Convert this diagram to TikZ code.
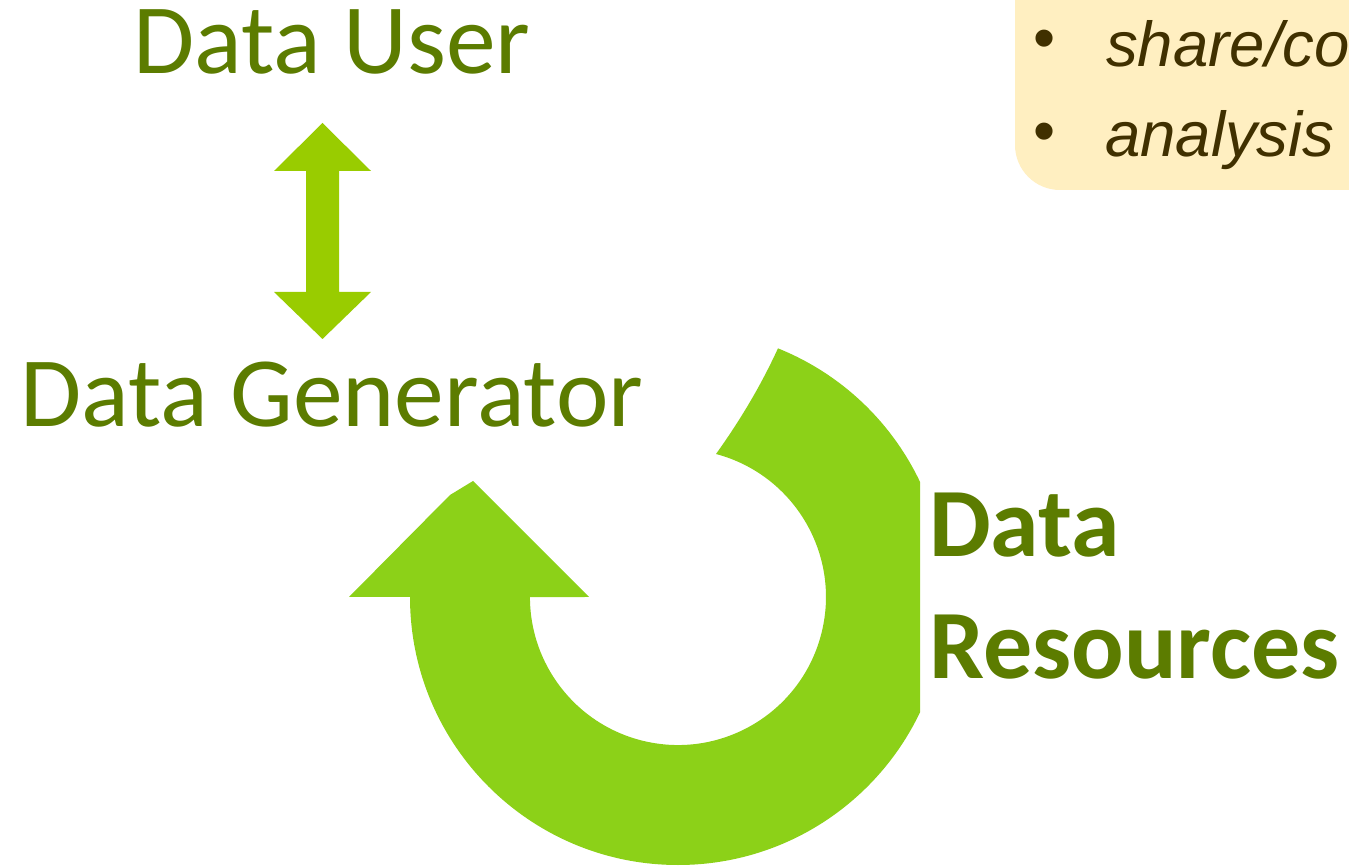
\documentclass[tikz,border=0pt]{standalone}
\usepackage{fontspec}
\newfontfamily\carlito{Carlito}
\newfontfamily\arialfont{Liberation Sans}
\definecolor{textgreen}{RGB}{92,124,0}
\definecolor{dblgreen}{RGB}{153,204,0}
\definecolor{circgreen}{RGB}{140,209,24}
\definecolor{boxfill}{RGB}{255,239,193}
\definecolor{boxtext}{RGB}{64,48,0}
\tikzset{
  bigtext/.style={inner sep=0pt, anchor=base west, text=textgreen, font=\carlito\fontsize{99.5bp}{118bp}\selectfont},
  boldtext/.style={bigtext, font=\carlito\bfseries\fontsize{98bp}{118bp}\selectfont},
  boxitem/.style={inner sep=0pt, anchor=base west, text=boxtext, font=\arialfont\itshape\fontsize{63.5bp}{75bp}\selectfont},
  bulletitem/.style={inner sep=0pt, anchor=center, text=boxtext, font=\arialfont\fontsize{63bp}{75bp}\selectfont}
}
\begin{document}
\begin{tikzpicture}[x=1bp,y=1bp]
\useasboundingbox (0,0) rectangle (1349,865);
\clip (0,0) rectangle (1349,865);
\fill[white] (0,0) rectangle (1349,865);
% note box
\fill[boxfill, rounded corners=45bp] (1015,675) rectangle (1450,950);
\node[bulletitem] (b1) at (1045,820) {\textbullet};
\node[bulletitem] (b2) at (1045,727) {\textbullet};
\node[boxitem] (t1) at (1106,798) {share/co};
\node[boxitem] (t2) at (1105,708) {analysis};
% texts
\node[bigtext] (user) at (133,791) {Data User};
\node[bigtext] (gen) at (20,438) {Data Generator};
\node[boldtext] (res1) at (929,308) {Data};
\node[boldtext] (res2) at (929,187) {Resources};
% double arrow
\fill[dblgreen] (322.5,742) -- (371,694) -- (339,694) -- (339,573) -- (371,573)
  -- (322.5,526) -- (274,573) -- (306,573) -- (306,694) -- (274,694) -- cycle;
% circular arrow
\begin{scope}
\clip (0,0) rectangle (920,865);
\fill[circgreen] (410,268) arc[start angle=180, end angle=428.1, radius=268]
  .. controls (762,481.7) and (741.3,446.3) .. (716,411)
  arc[start angle=75.1, end angle=-180, radius=148]
  -- (589,268) -- (473,384) -- (450,370) -- (349,268) -- cycle;
\end{scope}
\end{tikzpicture}
\end{document}
